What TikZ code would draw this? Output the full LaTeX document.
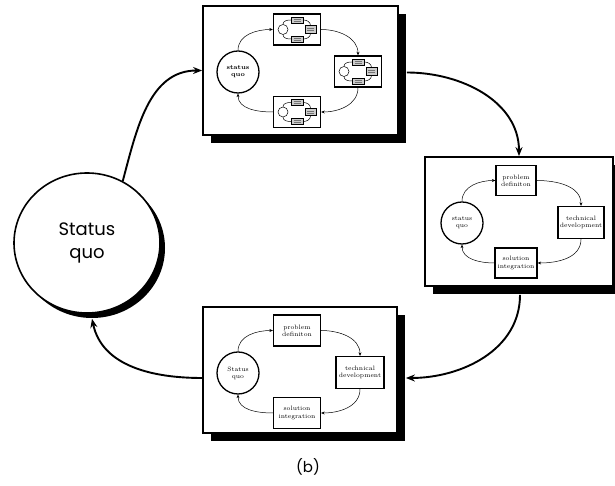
\documentclass[tikz,border=0pt]{standalone}
\usepackage{fontspec}
\newfontfamily\futura{Poppins}
\usetikzlibrary{arrows.meta,shadows,shapes.geometric}
\tikzset{
  panel/.style={draw,line width=1.8pt,fill=white,inner sep=0pt,
    drop shadow={shadow xshift=8pt,shadow yshift=-8pt,fill=black,opacity=1}},
  stepbox/.style={draw,line width=1.3pt,fill=white,inner sep=1pt,align=center,
    font=\fontsize{6.3}{7.2}\selectfont},
  sq/.style={draw,circle,line width=1.3pt,fill=white,minimum size=42pt,inner sep=0pt,align=center,
    font=\fontsize{6.3}{7.2}\selectfont},
  flow/.style={-{Stealth[length=3.5pt,width=3pt]},line width=0.5pt},
  bigflow/.style={-{Stealth[length=9pt,width=7pt]},line width=1.9pt},
  minib/.style={draw,line width=0.5pt,fill=black!20,inner sep=0pt},
  miniline/.style={line width=0.5pt},
  mini/.pic={
    \node[draw,line width=1.4pt,fill=white,minimum width=47pt,minimum height=31pt,inner sep=0pt] (-f) at (0,0) {};
    \node[draw,circle,line width=0.5pt,minimum size=10pt,inner sep=0pt] (-c) at (-14,0) {};
    \node[minib,minimum width=12pt,minimum height=6pt] (-a) at (0,9.5) {};
    \node[minib,minimum width=11pt,minimum height=7.5pt] (-b) at (13.5,0) {};
    \node[minib,minimum width=12pt,minimum height=6pt] (-d) at (0,-9.5) {};
    \draw[miniline] (-c.north) to[out=90,in=180] (-a.west);
    \draw[miniline] (-a.east) to[out=0,in=90] (-b.north);
    \draw[miniline] (-b.south) to[out=-90,in=0] (-d.east);
    \draw[miniline] (-d.west) to[out=180,in=-90] (-c.south);
    \foreach \n in {a,b,d}{
      \draw[line width=0.25pt,black!55] ([xshift=-3.5pt,yshift=1pt]-\n.center) -- ++(7pt,0);
      \draw[line width=0.25pt,black!55] ([xshift=-3.5pt,yshift=-1pt]-\n.center) -- ++(7pt,0);
    }
  }
}
\begin{document}
\begin{tikzpicture}[x=1pt,y=1pt]
\useasboundingbox (0,0) rectangle (615,486);

% big status quo circle
\node[draw,ellipse,line width=1.6pt,fill=white,minimum width=146pt,minimum height=140pt,inner sep=0pt,align=center,
  font=\futura\fontsize{18}{23}\selectfont,
  drop shadow={shadow xshift=5pt,shadow yshift=-5pt,fill=black,opacity=1}] (big) at (87,243) {Status\\quo};

% top panel
\node[panel,minimum width=195pt,minimum height=129pt] (tp) at (300.5,415.5) {};
\node[sq,font=\bfseries\fontsize{6.3}{7.2}\selectfont] (tc) at (238,414) {status\\quo};
\pic (ma) at (297,456.5) {mini};
\pic (mb) at (358,414.5) {mini};
\pic (mc) at (297,374) {mini};
\draw[flow] (tc.north) to[out=90,in=180] (ma-f.west);
\draw[flow] (ma-f.east) to[out=0,in=90] (mb-f.north);
\draw[flow] (mb-f.south) to[out=-90,in=0] (mc-f.east);
\draw[flow] (mc-f.west) to[out=180,in=-90] (tc.south);

% right panel
\node[panel,minimum width=188pt,minimum height=129pt] (rp) at (519,264.5) {};
\node[sq] (rc) at (462,263) {status\\quo};
\node[stepbox,minimum width=40pt,minimum height=30pt] (ra) at (516,305.5) {problem\\definiton};
\node[stepbox,minimum width=46pt,minimum height=32pt] (rb) at (581,263.5) {technical\\development};
\node[stepbox,minimum width=42pt,minimum height=30pt] (rcc) at (516,223) {solution\\integration};
\draw[flow] (rc.north) to[out=90,in=180] (ra.west);
\draw[flow] (ra.east) to[out=0,in=90] (rb.north);
\draw[flow] (rb.south) to[out=-90,in=0] (rcc.east);
\draw[flow] (rcc.west) to[out=180,in=-90] (rc.south);

% bottom panel
\node[panel,minimum width=194pt,minimum height=126pt] (bp) at (300,116) {};
\node[sq] (bc) at (238,113) {Status\\quo};
\node[stepbox,minimum width=47pt,minimum height=31pt] (ba) at (297,155.5) {problem\\definiton};
\node[stepbox,minimum width=48pt,minimum height=32pt] (bb) at (360,113.5) {technical\\development};
\node[stepbox,minimum width=47pt,minimum height=31pt] (bcc) at (297,73) {solution\\integration};
\draw[flow] (bc.north) to[out=90,in=180] (ba.west);
\draw[flow] (ba.east) to[out=0,in=90] (bb.north);
\draw[flow] (bb.south) to[out=-90,in=0] (bcc.east);
\draw[flow] (bcc.west) to[out=180,in=-90] (bc.south);

% big arrows
\coordinate (t1) at ([xshift=8pt,yshift=-2pt]tp.east);
\coordinate (r1) at ([xshift=1pt,yshift=-8pt]rp.south);
\coordinate (b1) at ([xshift=8pt,yshift=-8pt]bp.east);
\coordinate (b2) at ([yshift=-8pt]bp.west);
\coordinate (g1) at ([shift={(5pt,-5pt)}]big.south);
\draw[bigflow] (big.60) to[out=75,in=180] (tp.west);
\draw[bigflow] (t1) to[out=0,in=90] (rp.north);
\draw[bigflow] (r1) to[out=-90,in=0] (b1);
\draw[bigflow] (b2) to[out=180,in=-78] (g1);

\node[font=\futura\fontsize{15}{18}\selectfont] (lbl) at (308,19) {(b)};
\end{tikzpicture}
\end{document}
